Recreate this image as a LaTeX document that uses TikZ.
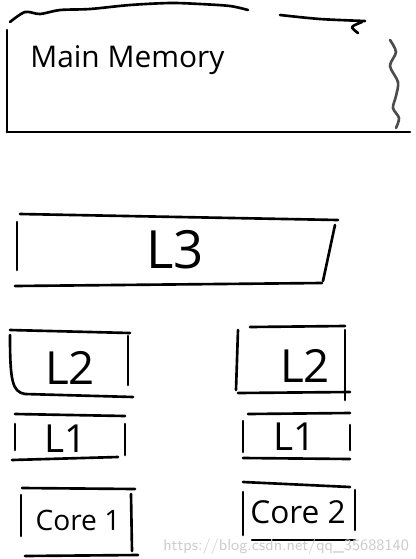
\documentclass[tikz,border=0pt]{standalone}
\usepackage{fontspec}
\setmainfont{Open Sans}
\begin{document}
\begin{tikzpicture}[x=0.02cm, y=-0.02cm,
    pen/.style={line width=1.5pt, line cap=round, line join=round},
    txt/.style={font=\fontsize{#1}{#1}\selectfont, inner sep=0pt},
    txt/.default=20]
    \useasboundingbox (0,0) rectangle (416,559);

    % Main Memory
    \draw[pen] plot[smooth] coordinates {(10,22) (25,12) (40,14) (60,10) (90,9) (130,5) (170,3) (200,4) (230,6) (248,10)};
    \draw[pen] plot[smooth] coordinates {(280,15) (320,19) (365,21)};
    \draw[pen] plot[smooth] coordinates {(362,22) (352,27) (358,33)};
    \draw[pen] (7,30) -- (7,132);
    \draw[pen] (7,132) -- (410,132);
    \draw[pen, gray!60!black] plot[smooth] coordinates {(390,40) (396,52) (390,66) (398,82) (396,96) (393,108) (399,118) (396,128)};
    \node[txt=17, anchor=west] (mem) at (30,60) {Main Memory};

    % L3
    \draw[pen] (20,214) -- (338,220);
    \draw[pen] (17,222) -- (17,270);
    \draw[pen] (15,286) -- (322,283);
    \draw[pen] (335,225) -- (323,281);
    \node[txt=30] (l3) at (175,250) {L3};

    % LHS: core 1
    \draw[pen] (10,330) -- (130,333);
    \draw[pen] (10,335) .. controls (10,380) and (12,392) .. (25,394) -- (133,397);
    \draw[pen] (128,336) -- (128,385);
    \node[txt=26] (l2a) at (70,368) {L2};
    \draw[pen] (15,414) -- (125,416);
    \draw[pen] (15,424) -- (15,450);
    \draw[pen] (12,460) -- (118,457);
    \draw[pen] (125,424) -- (125,455);
    \node[txt=22] (l1a) at (66,439) {L1};
    \draw[pen] (22,488) -- (135,489);
    \draw[pen] (21,495) -- (21,536);
    \draw[pen] (25,556) -- (138,555);
    \draw[pen] (131,494) -- (132,551);
    \node[txt=16] (core-1) at (78,520) {Core 1};

    % RHS: core 2
    \draw[pen] (250,327) -- (345,326);
    \draw[pen] (238,330) -- (236,390);
    \draw[pen] (238,393) -- (350,392);
    \draw[pen] (345,330) -- (345,400);
    \node[txt=26] (l2b) at (305,366) {L2};
    \draw[pen] (248,414) -- (350,413);
    \draw[pen] (243,421) -- (243,452);
    \draw[pen] (243,458) -- (350,459);
    \draw[pen] (350,425) -- (350,450);
    \node[txt=22] (l1b) at (295,437) {L1};
    \draw[pen] (243,482) -- (350,487);
    \draw[pen] (243,492) -- (243,535);
    \draw[pen] (252,540) -- (355,540);
    \draw[pen] (355,490) -- (355,530);
    \node[txt=18] (core-2) at (298,512) {Core 2};

    % watermark
    \node[font=\fontsize{9}{9}\selectfont\sffamily, text=gray!40, anchor=west, inner sep=0pt] (mark) at (163,547) {https://blog.csdn.net/qq\_35688140};
\end{tikzpicture}
\end{document}
